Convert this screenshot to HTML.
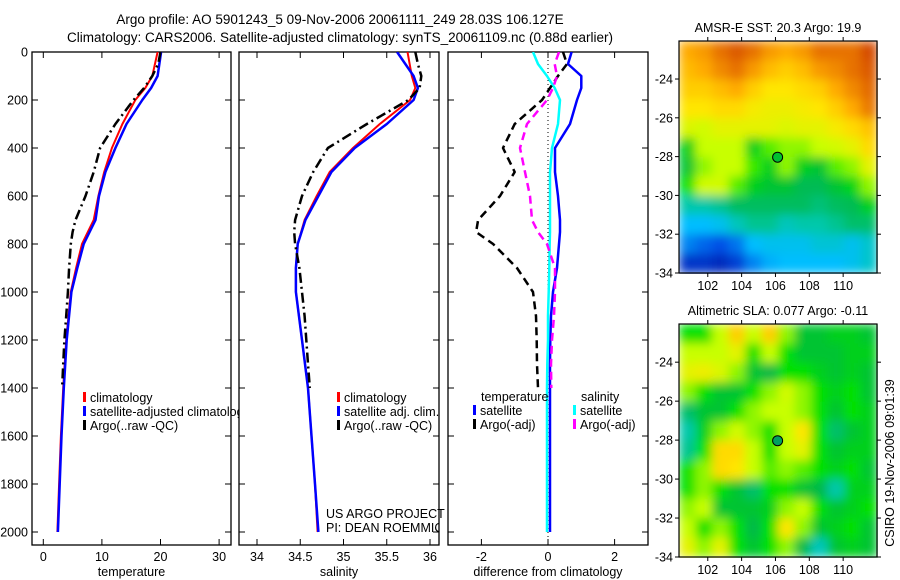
<!DOCTYPE html>
<html><head><meta charset="utf-8">
<style>
html,body{margin:0;padding:0;background:#fff;}
svg{display:block;font-family:"Liberation Sans",sans-serif;}
</style></head>
<body>
<svg id="fig" width="900" height="580" viewBox="0 0 900 580" xmlns="http://www.w3.org/2000/svg">
<rect x="0" y="0" width="900" height="580" fill="#fff"/>
<text x="340" y="24" font-size="13.5" text-anchor="middle">Argo profile: AO 5901243_5 09-Nov-2006 20061111_249 28.03S 106.127E</text>
<text x="340" y="42" font-size="13.5" text-anchor="middle">Climatology: CARS2006. Satellite-adjusted climatology: synTS_20061109.nc (0.88d earlier)</text>
<defs>
<clipPath id="c1"><rect x="32" y="52" width="207" height="494"/></clipPath>
<clipPath id="c2"><rect x="239" y="52" width="200" height="494"/></clipPath>
<clipPath id="c3"><rect x="448" y="52" width="200" height="494"/></clipPath>
<filter id="blur" x="0" y="0" width="1" height="1" filterUnits="objectBoundingBox"><feGaussianBlur stdDeviation="5" edgeMode="duplicate"/></filter>
</defs>
<g id="plots"></g>
<text transform="translate(894,463) rotate(-90)" font-size="12.5" text-anchor="middle">CSIRO 19-Nov-2006 09:01:39</text>
</svg>
<script>
// ---- profile data ----
const climDepths = [0,100,150,200,300,400,500,600,700,800,900,1000,1200,1400,1600,1800,2000];
const tempClim   = [19.5,18.6,17.4,15.7,13.5,11.7,10.4,9.4,8.6,6.6,5.6,4.7,3.9,3.4,3.0,2.7,2.4];
const tempSat    = [20.1,19.5,18.4,16.9,14.2,12.3,10.6,9.5,8.9,6.9,5.8,4.8,4.0,3.5,3.1,2.8,2.5];
const argoDepths = [0,50,100,150,200,300,400,500,600,700,750,800,900,1000,1100,1200,1300,1400];
const tempArgo   = [20.0,19.6,18.6,17.2,15.4,12.3,9.7,8.6,7.2,5.5,5.0,4.7,4.4,4.2,3.9,3.6,3.4,3.2];
const salClim    = [35.74,35.79,35.83,35.77,35.42,35.11,34.84,34.69,34.55,34.47,34.45,34.45,34.52,34.59,34.63,34.67,34.70];
const salSat     = [35.62,35.81,35.86,35.81,35.50,35.13,34.86,34.71,34.56,34.47,34.45,34.45,34.52,34.59,34.63,34.67,34.71];
const salArgo    = [35.83,35.86,35.90,35.88,35.75,35.27,34.82,34.65,34.52,34.44,34.43,34.44,34.49,34.52,34.55,34.57,34.59,34.61];
const dTempSat   = [0.71,0.6,1.0,1.0,0.87,0.66,0.21,0.21,0.30,0.36,0.36,0.33,0.27,0.15,0.09,0.07,0.06,0.06,0.06,0.06,0.06];
const dTempArgo  = [0.45,0.57,0.30,0.06,-0.18,-1.0,-1.35,-1.0,-1.44,-2.1,-2.16,-1.65,-0.93,-0.45,-0.36,-0.34,-0.33,-0.30];
const dSalSat    = [-0.45,-0.3,-0.03,0.2,0.36,0.30,0.12,0.06,0.06,0.06,0.06,0.05,0.04,0.02,0.0,0.0,-0.02,-0.03,-0.03,-0.03,-0.03];
const dSalArgo   = [0.33,0.2,0.27,0.15,-0.03,-0.63,-0.84,-0.69,-0.54,-0.48,-0.3,-0.03,0.21,0.21,0.18,0.12,0.09,0.10];
const diffDepths = [0,50,100,150,200,300,400,500,600,700,750,800,900,1000,1100,1200,1300,1400,1600,1800,2000];
const depthTicks = [0,200,400,600,800,1000,1200,1400,1600,1800,2000];
const tempTicks = [0,10,20,30];
const salTicks = [34,34.5,35,35.5,36];
const salTickLabels = ["34","34.5","35","35.5","36"];
const diffTicks = [-2,0,2];
// ---- map data (12x12, colour index 0..1) ----
const sstGrid = [
[0.78,0.8,0.85,0.88,0.85,0.8,0.78,0.8,0.85,0.85,0.85,0.9],
[0.75,0.78,0.82,0.85,0.8,0.75,0.72,0.75,0.8,0.82,0.85,0.88],
[0.72,0.72,0.75,0.78,0.72,0.68,0.68,0.7,0.72,0.78,0.82,0.86],
[0.68,0.68,0.7,0.7,0.67,0.66,0.66,0.67,0.68,0.72,0.78,0.84],
[0.64,0.63,0.65,0.65,0.65,0.65,0.64,0.65,0.65,0.67,0.7,0.74],
[0.52,0.62,0.62,0.62,0.52,0.58,0.6,0.6,0.62,0.63,0.65,0.7],
[0.5,0.6,0.62,0.62,0.57,0.52,0.6,0.52,0.5,0.58,0.6,0.65],
[0.55,0.63,0.63,0.58,0.52,0.5,0.5,0.47,0.47,0.5,0.53,0.6],
[0.4,0.4,0.42,0.46,0.46,0.46,0.46,0.46,0.44,0.46,0.47,0.52],
[0.3,0.3,0.32,0.38,0.42,0.42,0.38,0.4,0.4,0.42,0.45,0.45],
[0.22,0.18,0.15,0.2,0.3,0.32,0.32,0.32,0.35,0.35,0.32,0.36],
[0.1,0.1,0.08,0.12,0.22,0.28,0.3,0.3,0.3,0.3,0.32,0.36]];
const slaGrid = [
[0.55,0.55,0.62,0.72,0.62,0.72,0.6,0.5,0.5,0.52,0.52,0.5],
[0.62,0.62,0.62,0.65,0.55,0.62,0.55,0.5,0.5,0.5,0.52,0.52],
[0.65,0.66,0.64,0.6,0.5,0.48,0.55,0.55,0.52,0.5,0.52,0.5],
[0.6,0.55,0.5,0.5,0.55,0.6,0.63,0.6,0.55,0.52,0.55,0.5],
[0.45,0.5,0.5,0.55,0.6,0.62,0.62,0.6,0.55,0.5,0.55,0.52],
[0.4,0.52,0.6,0.63,0.6,0.55,0.62,0.68,0.55,0.45,0.5,0.52],
[0.42,0.55,0.7,0.7,0.62,0.55,0.62,0.65,0.55,0.5,0.52,0.52],
[0.55,0.6,0.7,0.68,0.62,0.58,0.6,0.58,0.55,0.52,0.55,0.5],
[0.55,0.6,0.55,0.5,0.45,0.55,0.55,0.5,0.48,0.4,0.52,0.52],
[0.6,0.62,0.5,0.5,0.5,0.52,0.6,0.62,0.55,0.5,0.52,0.55],
[0.62,0.55,0.6,0.55,0.48,0.55,0.68,0.6,0.5,0.52,0.55,0.5],
[0.65,0.6,0.65,0.55,0.5,0.55,0.6,0.48,0.38,0.5,0.52,0.5]];
const lonTicks = [102,104,106,108,110];
const latTicks = [-24,-26,-28,-30,-32,-34];
const argoLon = 106.127, argoLat = -28.03;

const NS = "http://www.w3.org/2000/svg";
const root = document.getElementById('plots');
function mk(tag, attrs, parent){ const e=document.createElementNS(NS,tag); for(const k in attrs) e.setAttribute(k,attrs[k]); (parent||root).appendChild(e); return e; }
const yD = d => 52 + d*0.24;

function panel(x0,x1,xs,ticks,labels,xlabel,name){
  const g = mk('g',{});
  
  
  const fr = mk('rect',{x:x0,y:52,width:x1-x0,height:493,fill:'none',stroke:'#000','stroke-width':1.3},g);
  
  
  ticks.forEach((t,i)=>{
    const x = xs(t);
    mk('line',{x1:x,x2:x,y1:545,y2:539,stroke:'#000'},g);
    mk('line',{x1:x,x2:x,y1:52,y2:58,stroke:'#000'},g);
    const tl = mk('text',{x:x,y:561,'font-size':12.5,'text-anchor':'middle'},g);
    tl.textContent = labels[i];
    
    
  });
  depthTicks.forEach(d=>{
    mk('line',{x1:x1,x2:x1-6,y1:yD(d),y2:yD(d),stroke:'#000'},g);
    mk('line',{x1:x0,x2:x0+6,y1:yD(d),y2:yD(d),stroke:'#000'},g);
  });
  const xl = mk('text',{x:(x0+x1)/2,y:576,'font-size':12.5,'text-anchor':'middle'},g);
  xl.textContent = xlabel;
  
  
}
function line(vals,depths,xs,color,w,dash,clip,name){
  const pts = vals.map((v,i)=>xs(v).toFixed(1)+','+yD(depths[i]).toFixed(1)).join(' ');
  const p = mk('polyline',{points:pts,fill:'none',stroke:color,'stroke-width':w,'clip-path':'url(#'+clip+')','stroke-linejoin':'round'});
  if(dash) p.setAttribute('stroke-dasharray',dash);
  
  
}
function legend(x,y,items,clip,name){
  items.forEach((it,i)=>{
    const yy = y + i*14;
    const m = mk('rect',{x:x,y:yy-10,width:3,height:10,fill:it[1]});
    
    
    const t = mk('text',{x:x+7,y:yy,'font-size':12.5});
    if(clip) t.setAttribute('clip-path','url(#'+clip+')');
    t.textContent = it[0];
    
    
  });
}

// depth labels
depthTicks.forEach(d=>{
  const t = mk('text',{x:28,y:yD(d)+4.5,'font-size':12.5,'text-anchor':'end'});
  t.textContent = d;
  
  
});

// panel 1 temperature
const xT = v => 43.3 + v*5.86;
panel(32,231,xT,tempTicks,tempTicks.map(String),'temperature','temperature-panel');
line(tempClim,climDepths,xT,'#f00',2,null,'c1','temperature-climatology-line');
line(tempSat,climDepths,xT,'#00f',2.5,null,'c1','temperature-satellite-line');
line(tempArgo,argoDepths,xT,'#000',2.5,'10,4,2,4','c1','temperature-argo-line');
legend(83,402,[['climatology','#f00'],['satellite-adjusted climatology','#00f'],['Argo(..raw -QC)','#000']],'c1','temperature-legend');

// panel 2 salinity
const xS = v => 257 + (v-34)*86.5;
panel(239,439,xS,salTicks,salTickLabels,'salinity','salinity-panel');
line(salClim,climDepths,xS,'#f00',2,null,'c2','salinity-climatology-line');
line(salSat,climDepths,xS,'#00f',2.5,null,'c2','salinity-satellite-line');
line(salArgo,argoDepths,xS,'#000',2.5,'10,4,2,4','c2','salinity-argo-line');
legend(337,402,[['climatology','#f00'],['satellite adj. clim.','#00f'],['Argo(..raw -QC)','#000']],'c2','salinity-legend');
const us1 = mk('text',{x:326,y:518,'font-size':12.5}); us1.textContent='US ARGO PROJECT';


const us2 = mk('text',{x:326,y:532,'font-size':12.5,'clip-path':'url(#c2)'}); us2.textContent='PI: DEAN ROEMMICH';



// panel 3 differences
const xDf = v => 548 + v*33.3;
panel(448,648,xDf,diffTicks,diffTicks.map(String),'difference from climatology','difference-panel');
const zl = mk('line',{x1:xDf(0),x2:xDf(0),y1:52,y2:545,stroke:'#000','stroke-dasharray':'1,3'});


line(dTempSat,diffDepths,xDf,'#00f',2.5,null,'c3','diff-temperature-satellite-line');
line(dSalSat,diffDepths,xDf,'#0ff',2.5,null,'c3','diff-salinity-satellite-line');
line(dTempArgo,argoDepths,xDf,'#000',2.5,'8,5','c3','diff-temperature-argo-line');
line(dSalArgo,argoDepths,xDf,'#f0f',2.5,'8,5','c3','diff-salinity-argo-line');
const lt = mk('text',{x:481,y:401,'font-size':12.5}); lt.textContent='temperature';


const ls = mk('text',{x:581,y:401,'font-size':12.5}); ls.textContent='salinity';


legend(473,415,[['satellite','#00f'],['Argo(-adj)','#000']],null,'diff-temperature-legend');
legend(573,415,[['satellite','#0ff'],['Argo(-adj)','#f0f']],null,'diff-salinity-legend');

// ---- maps ----
const stops = [[0,[0,0,140]],[0.15,[0,80,230]],[0.3,[0,190,255]],[0.4,[0,200,170]],[0.48,[0,185,70]],[0.55,[0,225,0]],[0.62,[200,255,0]],[0.68,[255,230,0]],[0.78,[255,170,0]],[0.88,[220,90,0]],[1,[180,0,0]]];
function cmap(v){
  for(let i=1;i<stops.length;i++){
    if(v<=stops[i][0]){
      const a=stops[i-1],b=stops[i],t=(v-a[0])/(b[0]-a[0]);
      const c=a[1].map((x,k)=>Math.round(x+(b[1][k]-x)*t));
      return 'rgb('+c.join(',')+')';
    }
  }
  return 'rgb(180,0,0)';
}
function map(grid,top,bottom,title,name){
  const x0=679,x1=877;
  const lonL=100.3,lonR=112.0,latT=-22.04;
  const xm = lon => x0 + (lon-lonL)/(lonR-lonL)*(x1-x0);
  const ym = lat => top + (latT-lat)/(latT+34)*(bottom-top);
  const g = mk('g',{});
  
  
  const cells = mk('g',{filter:'url(#blur)'},g);
  
  
  const nr=grid.length, nc=grid[0].length, cw=(x1-x0)/nc, ch=(bottom-top)/nr;
  grid.forEach((row,r)=>row.forEach((v,c)=>{
    const cell = mk('rect',{x:(x0+c*cw).toFixed(2),y:(top+r*ch).toFixed(2),width:(cw+0.6).toFixed(2),height:(ch+0.6).toFixed(2),fill:cmap(v)},cells);
    
    
  }));
  mk('rect',{x:x0,y:top,width:x1-x0,height:bottom-top,fill:'none',stroke:'#000','stroke-width':1.2},g);
  lonTicks.forEach(l=>{
    mk('line',{x1:xm(l),x2:xm(l),y1:bottom,y2:bottom+4,stroke:'#000'},g);
    mk('line',{x1:xm(l),x2:xm(l),y1:top,y2:top-4,stroke:'#000'},g);
    const t = mk('text',{x:xm(l),y:bottom+17,'font-size':12.5,'text-anchor':'middle'},g);
    t.textContent=l;
    
    
  });
  latTicks.forEach(l=>{
    mk('line',{x1:x0,x2:x0-4,y1:ym(l),y2:ym(l),stroke:'#000'},g);
    mk('line',{x1:x1,x2:x1+4,y1:ym(l),y2:ym(l),stroke:'#000'},g);
    const t = mk('text',{x:x0-6,y:ym(l)+4.5,'font-size':12.5,'text-anchor':'end'},g);
    t.textContent=l;
    
    
  });
  const tt = mk('text',{x:(x0+x1)/2,y:top-9,'font-size':12.5,'text-anchor':'middle'},g);
  tt.textContent=title;
  
  
  const dot = mk('circle',{cx:xm(argoLon),cy:ym(argoLat),r:5,fill:name.indexOf('sst')>=0?'#00c030':'#00a060',stroke:'#000','stroke-width':1},g);
  
  
}
map(sstGrid,41,273,'AMSR-E SST: 20.3 Argo: 19.9','sst-map');
map(slaGrid,324,557,'Altimetric SLA: 0.077 Argo: -0.11','sla-map');
</script>
</body></html>
